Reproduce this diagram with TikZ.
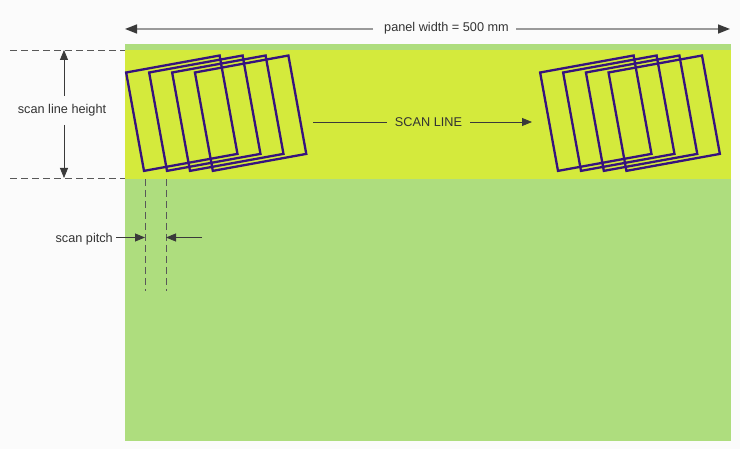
\documentclass[tikz,border=0pt]{standalone}
\usepackage{fontspec}
\setmainfont{Liberation Sans}
\usetikzlibrary{arrows.meta}
\definecolor{bgc}{HTML}{FBFBFB}
\definecolor{panelg}{HTML}{AEDD7E}
\definecolor{bandy}{HTML}{D4EA3C}
\definecolor{frameP}{HTML}{36127E}
\definecolor{txt}{HTML}{333333}
\definecolor{arr}{HTML}{3A3A3A}
\definecolor{dimg}{HTML}{9A9A9A}
\tikzset{
  lbl/.style={font=\fontsize{12.7}{15}\selectfont, text=txt, inner sep=0pt},
  frm/.style={draw=frameP, line width=2.3pt, minimum width=95pt, minimum height=100pt, rotate=10.3, inner sep=0pt},
  dsh/.style={draw=arr!85, line width=0.8pt, dash pattern=on 7pt off 4pt},
  dimarrow/.style={draw=arr, line width=0.8pt, -{Triangle[length=10pt,width=8pt]}},
  toparrow/.style={draw=dimg, line width=1.6pt, -{Triangle[length=12pt,width=9pt,fill=arr,color=arr]}},
}
\begin{document}
\begin{tikzpicture}[x=1pt,y=-1pt]
\path[fill=bgc] (0,0) rectangle (740,449);
\useasboundingbox (0,0) rectangle (740,449);
% panel
\node[fill=panelg, minimum width=606pt, minimum height=397pt, inner sep=0pt, anchor=north west] (panel) at (125,44) {};
\node[fill=bandy, minimum width=606pt, minimum height=129pt, inner sep=0pt, anchor=north west] (band) at (125,50) {};
% frames
\foreach \i/\x in {1/181.8,2/204.8,3/227.8,4/250.6}{
  \node[frm] (l\i) at (\x,113.2) {};
}
\foreach \i/\x in {1/595.8,2/618.8,3/641.6,4/664.2}{
  \node[frm] (r\i) at (\x,113.2) {};
}
% top dimension
\node[lbl] (pw) at (446.5,28) {panel width = 500 mm};
\coordinate (pwL) at (125,29);
\coordinate (pwR) at (730,29);
\draw[toparrow] (pw.west) ++(-11,1) -- (pwL);
\draw[toparrow] (pw.east) ++(7,1) -- (pwR);
% scan line height
\coordinate (d1a) at (10,50);
\coordinate (d1b) at (125,50);
\coordinate (d2a) at (10,178);
\coordinate (d2b) at (125,178);
\draw[dsh] (d1a) -- (d1b);
\draw[dsh] (d2a) -- (d2b);
\node[lbl] (slh) at (62,110.5) {scan line height};
\coordinate (slhT) at (64,50);
\coordinate (slhB) at (64,178);
\draw[dimarrow] (64,96) -- (slhT);
\draw[dimarrow] (64,125) -- (slhB);
% scan pitch
\coordinate (p1a) at (145,179);
\coordinate (p1b) at (145,291);
\coordinate (p2a) at (166,179);
\coordinate (p2b) at (166,291);
\draw[dsh] (p1a) -- (p1b);
\draw[dsh] (p2a) -- (p2b);
\node[lbl, anchor=east] (sp) at (113,239) {scan pitch};
\coordinate (spL) at (145,237.5);
\coordinate (spR) at (166,237.5);
\draw[dimarrow] (116,237.5) -- (spL);
\draw[dimarrow] (202,237.5) -- (spR);
% scan line
\node[lbl] (sl) at (428.5,122.5) {SCAN LINE};
\coordinate (slE) at (532,122);
\draw[draw=arr, line width=0.8pt] (313,122) -- (387,122);
\draw[dimarrow] (470,122) -- (slE);
\end{tikzpicture}
\end{document}
